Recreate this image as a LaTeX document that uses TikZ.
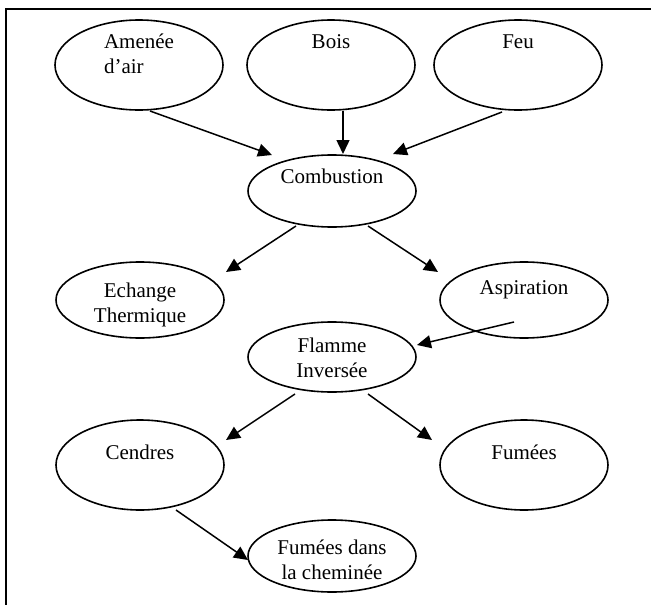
\documentclass[tikz,border=0pt]{standalone}
\usepackage{fontspec}
\setmainfont{Liberation Serif}
\usetikzlibrary{shapes.geometric,arrows.meta}
\begin{document}
\begin{tikzpicture}[x=1pt,y=-1pt,
  oval/.style={draw,ellipse,line width=1.6pt,inner sep=0pt,minimum width=168pt},
  lbl/.style={font=\fontsize{21}{24.5}\selectfont,align=center,inner sep=0pt},
  conn/.style={line width=1.5pt,-{Triangle[length=14pt,width=13pt]}}]
\useasboundingbox (0,0) rectangle (651,605);
\draw[line width=2.5pt] (6,605) -- (6,9) -- (651,9);
% ellipses
\node[oval,minimum height=90pt] (amenee) at (139,65) {};
\node[oval,minimum height=90pt] (bois) at (331,65) {};
\node[oval,minimum height=90pt] (feu) at (518,65) {};
\node[oval,minimum height=72pt] (comb) at (332,191) {};
\node[oval,minimum height=76pt] (echange) at (140,300) {};
\node[oval,minimum height=76pt] (aspir) at (524,300) {};
\node[oval,minimum height=70pt] (flamme) at (332,357) {};
\node[oval,minimum height=90pt] (cendres) at (140,465) {};
\node[oval,minimum height=90pt] (fumees) at (524,465) {};
\node[oval,minimum height=72pt] (fdans) at (332,556) {};
% labels
\node[lbl,align=left] (tamenee) at (139,54) {Amenée\\d’air};
\node[lbl] (tbois) at (331,42) {Bois};
\node[lbl] (tfeu) at (518,42) {Feu};
\node[lbl] (tcomb) at (332,176) {Combustion};
\node[lbl] (techange) at (140,305) {Echange\\Thermique};
\node[lbl] (taspir) at (524,290) {Aspiration};
\node[lbl] (tflamme) at (332,358) {Flamme\\Inversée};
\node[lbl] (tcendres) at (140,452) {Cendres};
\node[lbl] (tfumees) at (524,452) {Fumées};
\node[lbl] (tfdans) at (332,560) {Fumées dans\\la cheminée};
% connector ends
\coordinate (s1) at (150,111); \coordinate (e1) at (272,155);
\coordinate (s2) at (343,111); \coordinate (e2) at (343,154);
\coordinate (s3) at (502,112); \coordinate (e3) at (393,154);
\coordinate (s4) at (296,226); \coordinate (e4) at (226,272);
\coordinate (s5) at (368,226); \coordinate (e5) at (438,272);
\coordinate (s6) at (514,322); \coordinate (e6) at (417,345);
\coordinate (s7) at (295,394); \coordinate (e7) at (226,440);
\coordinate (s8) at (368,394); \coordinate (e8) at (432,440);
\coordinate (s9) at (176,510); \coordinate (e9) at (248,560);
\draw[conn] (s1) -- (e1);
\draw[conn] (s2) -- (e2);
\draw[conn] (s3) -- (e3);
\draw[conn] (s4) -- (e4);
\draw[conn] (s5) -- (e5);
\draw[conn] (s6) -- (e6);
\draw[conn] (s7) -- (e7);
\draw[conn] (s8) -- (e8);
\draw[conn] (s9) -- (e9);
\end{tikzpicture}
\end{document}
